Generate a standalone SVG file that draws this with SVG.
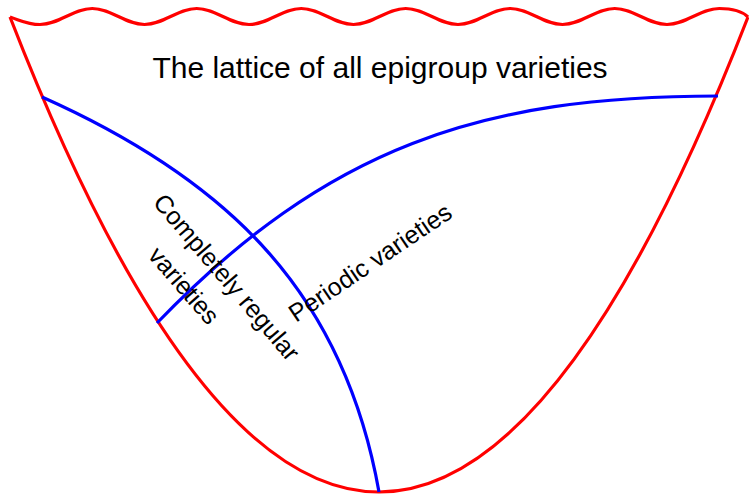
<svg xmlns="http://www.w3.org/2000/svg" width="749" height="496" viewBox="0 0 749 496">
  <style>
    .red { fill: none; stroke: #ff0000; stroke-width: 3.2; stroke-linejoin: round; }
    .blue { fill: none; stroke: #0000ff; stroke-width: 3.2; }
    text { font-family: "Liberation Sans", Arial, sans-serif; fill: #000000; }
    .title { font-size: 30px; text-anchor: middle; }
    .lbl { font-size: 25px; }
  </style>
  <rect width="749" height="496" fill="#ffffff"/>
  <g id="lattice">
    <path class="red" d="M10,17 C22,21 28,24.5 40,24.5 C59.03,24.5 73.22,8.5 92.25,8.5 S125.47,24.5 144.5,24.5 S177.72,8.5 196.75,8.5 S229.97,24.5 249,24.5 S282.22,8.5 301.25,8.5 S334.47,24.5 353.5,24.5 S386.72,8.5 405.75,8.5 S438.97,24.5 458,24.5 S491.22,8.5 510.25,8.5 S543.47,24.5 562.5,24.5 S595.72,8.5 614.75,8.5 S647.97,24.5 667,24.5 S700.22,8.5 719.25,8.5 C735,8.5 743,12 748,17"/>
    <path class="red" d="M10,17 Q379,967 748,17"/>
    <text class="title" x="380" y="78">The lattice of all epigroup varieties</text>
  </g>
  <g id="connectors">
    <path class="blue" d="M42,97 C228,180 343.6,292.5 379,492"/>
    <path class="blue" d="M157,323 C327.2,146.8 481,96 718,96"/>
  </g>
  <g id="completely-regular">
    <text class="lbl" transform="translate(152,203) rotate(49.5)">Completely regular</text>
    <text class="lbl" transform="translate(147,256) rotate(49)">varieties</text>
  </g>
  <g id="periodic">
    <text class="lbl" transform="translate(296,323) rotate(-34)">Periodic varieties</text>
  </g>
</svg>
